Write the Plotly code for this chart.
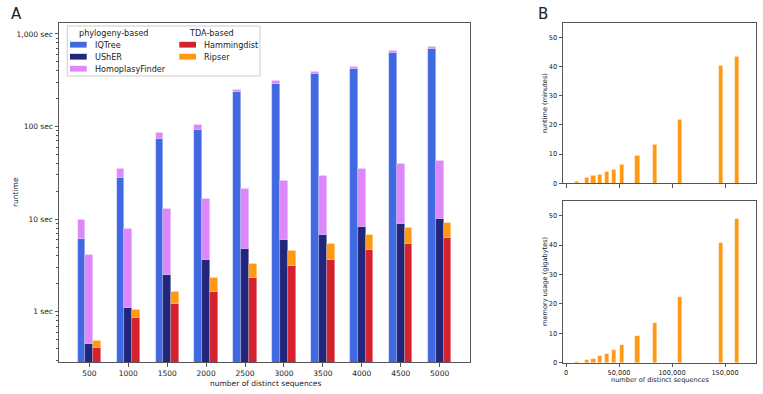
import plotly.graph_objects as go

# ---------------- data ----------------
categories = ["500", "1000", "1500", "2000", "2500", "3000", "3500", "4000", "4500", "5000"]
iqtree = [6.1, 28.3, 74.5, 91.6, 236, 292, 369, 421, 627, 700]
usher = [0.45, 1.11, 2.49, 3.62, 4.79, 5.95, 6.85, 8.22, 9.01, 10.1]
homoplasyfinder = [3.7, 6.8, 10.6, 13.0, 16.5, 20.0, 22.5, 26.5, 30.5, 33.0]
hammingdist = [0.405, 0.855, 1.23, 1.66, 2.31, 3.17, 3.62, 4.72, 5.48, 6.25]
ripser = [0.08, 0.2, 0.4, 0.69, 0.96, 1.43, 1.86, 2.07, 2.67, 2.98]

ytick_vals = [1, 10, 100, 1000]
ytick_text = ["1 sec", "10 sec", "100 sec", "1,000 sec"]

big_n = [10500, 20000, 26000, 32000, 38500, 45000, 53000, 67500, 84000, 107500, 146500, 161000]
big_runtime_min = [0.45, 1.8, 2.5, 3.1, 4.1, 4.8, 6.4, 9.3, 13.1, 21.7, 40.2, 43.5]
big_memory_gb = [0.2, 0.9, 1.4, 2.2, 3.1, 4.3, 6.0, 9.1, 13.5, 22.3, 40.6, 48.9]
big_xticks = [0, 50000, 100000, 150000]
big_xtick_text = ["0", "50,000", "100,000", "150,000"]
big_yticks = [0, 10, 20, 30, 40, 50]

legend_groups = ["phylogeny-based", "TDA-based"]
legend_phylo = ["IQTree", "UShER", "HomoplasyFinder"]
legend_tda = ["Hammingdist", "Ripser"]

# ---------------- styling ----------------
C_IQ = "#4169E1"
C_US = "#22267A"
C_HF = "#DD88FA"
C_HD = "#D3212D"
C_RI = "#FF9812"
colors = {"IQTree": C_IQ, "UShER": C_US, "HomoplasyFinder": C_HF,
          "Hammingdist": C_HD, "Ripser": C_RI}
FONT = "DejaVu Sans"
AX = "#555555"
TXT = "#222222"
FS_A = 7.5     # panel A tick/title font
FS_LEG = 8.1   # legend font
FS_B = 6.6     # panel B font

W, H = 763, 394
def px(x):
    return x / W
def py(y):
    return 1 - y / H

xi = list(range(len(categories)))
bw = 0.2
fig = go.Figure()

edge = dict(line=dict(color="rgba(255,255,255,0.35)", width=0.6))

def add_bar(y, base, offset, color, name):
    fig.add_trace(go.Bar(x=xi, y=y, base=base, width=bw, offset=offset,
                         marker=dict(color=color, **edge), name=name, showlegend=False,
                         xaxis="x", yaxis="y"))

add_bar(iqtree, None, -0.3, C_IQ, "IQTree")
add_bar(homoplasyfinder, iqtree, -0.3, C_HF, "HomoplasyFinder")
add_bar(usher, None, -0.1, C_US, "UShER")
add_bar(homoplasyfinder, usher, -0.1, C_HF, "HomoplasyFinder")
add_bar(hammingdist, None, 0.1, C_HD, "Hammingdist")
add_bar(ripser, hammingdist, 0.1, C_RI, "Ripser")

# panel B
fig.add_trace(go.Bar(x=big_n, y=big_runtime_min, width=4000, marker=dict(color=C_RI, **edge),
                     showlegend=False, xaxis="x2", yaxis="y2"))
fig.add_trace(go.Bar(x=big_n, y=big_memory_gb, width=4000, marker=dict(color=C_RI, **edge),
                     showlegend=False, xaxis="x3", yaxis="y3"))

axis_common = dict(showline=True, linecolor=AX, linewidth=1, mirror=True, showgrid=False,
                   zeroline=False, ticks="outside", tickcolor=AX, ticklen=3.5, tickwidth=0.8,
                   automargin=False)

# ---- manual legend (box, swatches, labels) ----
shapes = [dict(type="rect", xref="paper", yref="paper", x0=px(67.3), x1=px(260),
               y0=py(76), y1=py(26), line=dict(color="#cccccc", width=1),
               fillcolor="white", layer="below")]
annotations = []
col_x = [70, 179.3]
row_y = [44.7, 56.7, 68.7]
header_x = [77, 186.7]
for ci, (group, items) in enumerate(zip(legend_groups, [legend_phylo, legend_tda])):
    annotations.append(dict(text=group, x=px(header_x[ci]), y=py(33.3), xref="paper",
                            yref="paper", showarrow=False, xanchor="left", yanchor="middle",
                            font=dict(size=FS_LEG, color=TXT)))
    for ri, name in enumerate(items):
        yc = row_y[ri]
        shapes.append(dict(type="rect", xref="paper", yref="paper",
                           x0=px(col_x[ci]), x1=px(col_x[ci] + 16.7),
                           y0=py(yc + 2.9), y1=py(yc - 2.9),
                           fillcolor=colors[name], line=dict(width=0)))
        annotations.append(dict(text=name, x=px(col_x[ci] + 22.7), y=py(yc), xref="paper",
                                yref="paper", showarrow=False, xanchor="left",
                                yanchor="middle", font=dict(size=FS_LEG, color=TXT)))

def label(text, x, y, size, angle=0, xanchor="center"):
    return dict(text=text, x=px(x), y=py(y), xref="paper", yref="paper", showarrow=False,
                textangle=angle, xanchor=xanchor, yanchor="middle",
                font=dict(size=size, color=TXT))

annotations += [
    label("A", 9, 14, 15, xanchor="left"),
    label("B", 536, 14, 15, xanchor="left"),
    label("runtime", 15, 192, FS_A, -90),
    label("number of distinct sequences", 265, 383, FS_A),
    label("runtime (minutes)", 545, 103, FS_B, -90),
    label("memory usage (gigabytes)", 545, 282, FS_B, -90),
    label("number of distinct sequences", 660, 380, FS_B),
]

fig.update_layout(
    width=W, height=H,
    margin=dict(l=0, r=0, t=0, b=0, autoexpand=False),
    paper_bgcolor="white", plot_bgcolor="white",
    font=dict(family=FONT, size=FS_A, color=TXT),
    barmode="overlay",
    bargap=0,
    showlegend=False,
    xaxis=dict(domain=[px(59), px(470)], anchor="y", range=[-0.78, 9.78],
               tickvals=xi, ticktext=categories, tickfont=dict(size=FS_A), **axis_common),
    yaxis=dict(domain=[py(362.3), py(22.7)], anchor="x", type="log", range=[-0.546, 3.121],
               tickvals=ytick_vals, ticktext=ytick_text, tickfont=dict(size=FS_A),
               minor=dict(ticks="outside", ticklen=2, tickcolor=AX, dtick="D1"),
               **axis_common),
    xaxis2=dict(domain=[px(563), px(756)], anchor="y2", range=[-2830, 179200],
                tickvals=big_xticks, showticklabels=False, **axis_common),
    yaxis2=dict(domain=[py(183.3), py(22.7)], anchor="x2", range=[0, 55],
                tickvals=big_yticks, tickfont=dict(size=FS_B), **axis_common),
    xaxis3=dict(domain=[px(563), px(756)], anchor="y3", range=[-2830, 179200],
                tickvals=big_xticks, ticktext=big_xtick_text, tickfont=dict(size=FS_B),
                **axis_common),
    yaxis3=dict(domain=[py(362.7), py(201)], anchor="x3", range=[0, 55],
                tickvals=big_yticks, tickfont=dict(size=FS_B), **axis_common),
    shapes=shapes,
    annotations=annotations,
)

fig.write_html("out.html", config={"displayModeBar": False},
               post_script="document.body.style.margin='0';document.body.style.overflow='hidden';")
